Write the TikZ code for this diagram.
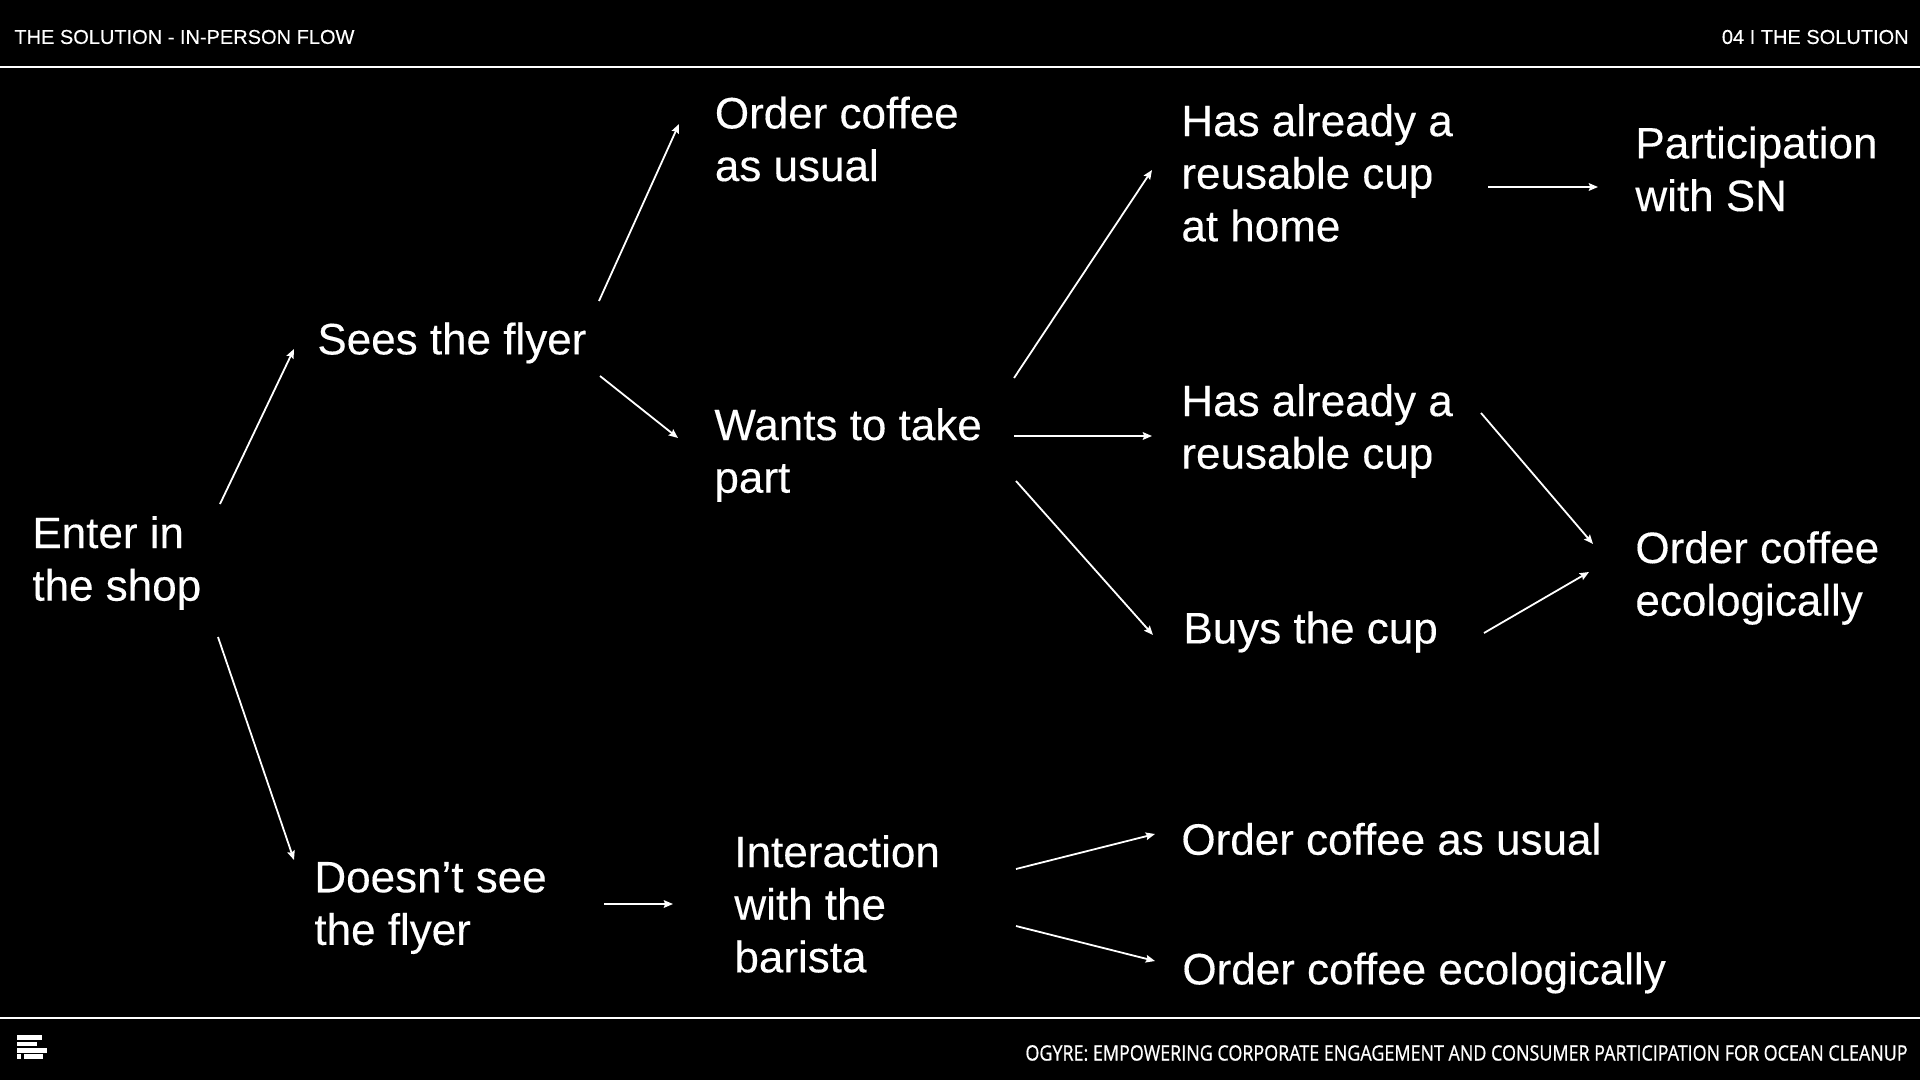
\documentclass[tikz,border=0pt]{standalone}
\usepackage{fontspec}
\usetikzlibrary{arrows.meta}
\setmainfont[FakeBold=0.25]{Liberation Sans}
\newfontfamily\footfont[FakeStretch=0.845,FakeBold=0.8]{Open Sans}
\begin{document}
\begin{tikzpicture}
    [x=0.5pt,y=-0.5pt,
     flow/.style={-{Stealth[length=4.6pt,width=3.8pt,inset=0.7pt]},white,line width=0.9pt},
     rule/.style={white,line width=0.9pt},
     stage/.style={anchor=west,align=left,inner sep=0pt,text=white,font=\fontsize{22}{26.3}\selectfont},
     small/.style={inner sep=0pt,text=white,font=\fontsize{10}{12}\selectfont}]
    \useasboundingbox (0,0) rectangle (1920,1080);
    \fill [black] (-5,-5) rectangle (1925,1085);
    \draw [rule] (0,67) -- (1920,67);
    \draw [rule] (0,1018) -- (1920,1018);
    \node [small,anchor=west] (title) at (14,37) {THE SOLUTION - IN-PERSON FLOW};
    \node [small,anchor=east] (section) at (1909,37) {04 I THE SOLUTION};
    \node [anchor=east,inner sep=0pt,text=white,font=\footfont\fontsize{10.6}{12}\selectfont] (footer) at (1908,1053) {OGYRE: EMPOWERING CORPORATE ENGAGEMENT AND CONSUMER PARTICIPATION FOR OCEAN CLEANUP};
    % logo
    \fill [white] (17,1035) rectangle (42,1040);
    \fill [white] (17,1041.5) rectangle (37,1046);
    \fill [white] (17,1048) rectangle (47,1052.5);
    \fill [white] (17,1054) rectangle (21,1059);
    \fill [white] (24,1054) rectangle (43,1059);
    % stages
    \node [stage] (enter) at (32,563) {Enter in\\the shop};
    \node [stage] (sees) at (317,343) {Sees the flyer};
    \node [stage] (nosee) at (314,908) {Doesn’t see\\the flyer};
    \node [stage] (usual) at (714.5,139) {Order coffee\\as usual};
    \node [stage] (wants) at (714,455) {Wants to take\\part};
    \node [stage] (barista) at (734,904) {Interaction\\with the\\barista};
    \node [stage] (home) at (1181,173) {Has already a\\reusable cup\\at home};
    \node [stage] (hascup) at (1181,431) {Has already a\\reusable cup};
    \node [stage] (buys) at (1183,632) {Buys the cup};
    \node [stage] (bariusual) at (1181,839) {Order coffee as usual};
    \node [stage] (barieco) at (1182,973) {Order coffee ecologically};
    \node [stage] (part) at (1635,169) {Participation\\with SN};
    \node [stage] (eco) at (1635,578) {Order coffee\\ecologically};
    % connectors
    \draw [flow] ([shift={(188,-59)}]enter.west) -- ([shift={(-23,6)}]sees.west);
    \draw [flow] ([shift={(186,74)}]enter.west) -- ([shift={(-20,-48)}]nosee.west);
    \draw [flow] ([shift={(282,-42)}]sees.west) -- ([shift={(-35.5,-15)}]usual.west);
    \draw [flow] ([shift={(283,33)}]sees.west) -- ([shift={(-36,-17)}]wants.west);
    \draw [flow] ([shift={(300,-77)}]wants.west) -- ([shift={(-29,-3)}]home.west);
    \draw [flow] ([shift={(300,-19)}]wants.west) -- ([shift={(-29,5)}]hascup.west);
    \draw [flow] ([shift={(302,26)}]wants.west) -- ([shift={(-30,3)}]buys.west);
    \draw [flow] ([shift={(307,14)}]home.west) -- ([shift={(-37,18)}]part.west);
    \draw [flow] ([shift={(300,-18)}]hascup.west) -- ([shift={(-42,-34)}]eco.west);
    \draw [flow] ([shift={(301,1)}]buys.west) -- ([shift={(-46,-6)}]eco.west);
    \draw [flow] ([shift={(290,-4)}]nosee.west) -- ([shift={(-61,0)}]barista.west);
    \draw [flow] ([shift={(282,-35)}]barista.west) -- ([shift={(-26,-5)}]bariusual.west);
    \draw [flow] ([shift={(282,22)}]barista.west) -- ([shift={(-27,-12)}]barieco.west);
\end{tikzpicture}
\end{document}
